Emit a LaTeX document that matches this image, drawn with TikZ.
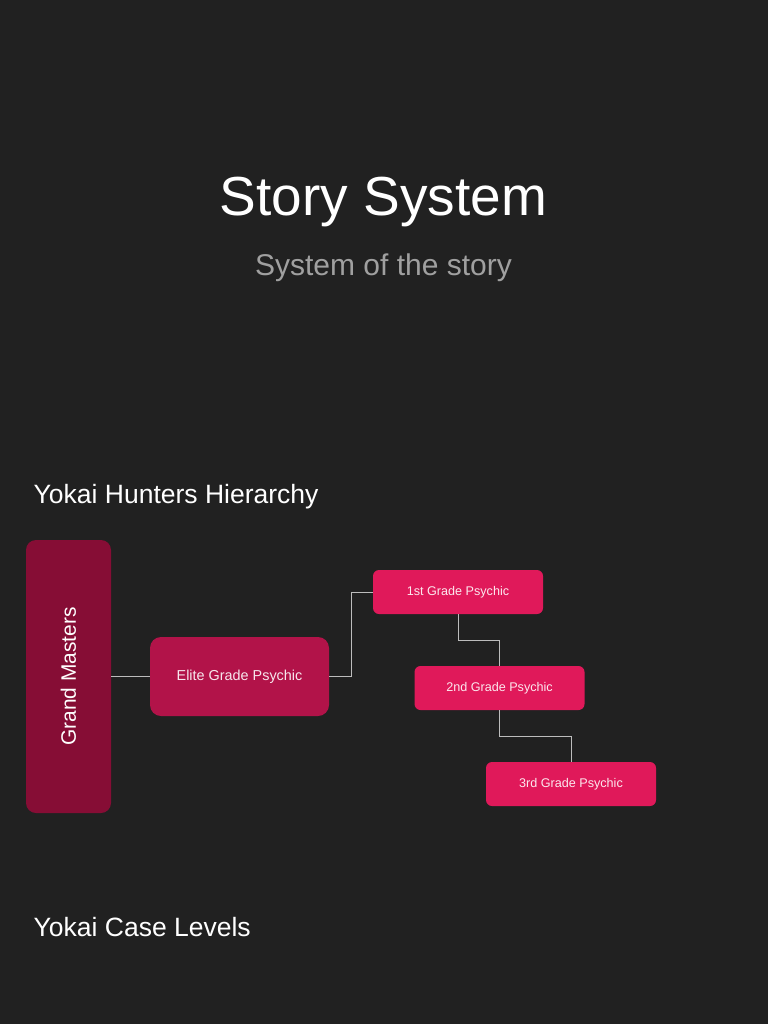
\documentclass[tikz,border=0pt]{standalone}
\usepackage{fontspec}
\setmainfont{Liberation Sans}
\usetikzlibrary{positioning}

\definecolor{bgdark}{HTML}{212121}
\definecolor{gmred}{HTML}{860D35}
\definecolor{elitered}{HTML}{B21349}
\definecolor{gradepink}{HTML}{E0195A}
\definecolor{linkgray}{HTML}{BDBDBD}
\definecolor{subgray}{HTML}{A0A0A0}

\begin{document}
\begin{tikzpicture}[
      x=1pt, y=-1pt,
      every node/.style={text=white},
      title/.style={anchor=base, inner sep=0pt, font=\fontsize{55}{60}\selectfont},
      subtitle/.style={anchor=base, inner sep=0pt, text=subgray, font=\fontsize{30}{34}\selectfont},
      heading/.style={anchor=base west, inner sep=0pt, font=\fontsize{26.5}{30}\selectfont},
      rank/.style={rectangle, inner sep=0pt, align=center},
      master/.style={rank, fill=gmred, rounded corners=10pt, minimum width=273pt, minimum height=85pt, rotate=90, font=\fontsize{20.9}{24}\selectfont},
      elite/.style={rank, fill=elitered, rounded corners=11pt, minimum width=179pt, minimum height=79pt, text=white!90!elitered, font=\fontsize{14.4}{17}\selectfont},
      grade/.style={rank, fill=gradepink, rounded corners=6pt, minimum width=170pt, minimum height=44pt, text=white!90!gradepink, font=\fontsize{12.6}{15}\selectfont},
      link/.style={draw=linkgray, line width=1pt}
  ]
    \fill[bgdark] (0,0) rectangle (768,1024);
    \useasboundingbox (0,0) rectangle (768,1024);

    \node[title] (storytitle) at (383.5,215) {Story System};
    \node[subtitle] (storysub) at (383.5,275) {System of the story};

    \node[heading] (hierhead) at (33.5,503) {Yokai Hunters Hierarchy};
    \node[heading] (casehead) at (33.5,936) {Yokai Case Levels};

    \node[master] (gm) at (68.5,676.5) {Grand Masters};
    \node[elite] (elitepsy) at (239.5,676.5) {Elite Grade Psychic};
    \node[grade] (firstpsy) at (458,592) {1st Grade Psychic};
    \node[grade] (secondpsy) at (499.5,688) {2nd Grade Psychic};
    \node[grade] (thirdpsy) at (571,784) {3rd Grade Psychic};

    \draw[link] (gm.south) -- (elitepsy.west);
    \draw[link] (elitepsy.east) -- ++(22,0) |- (firstpsy.west);
    \draw[link] (firstpsy.south) -- ++(0,26) -| (secondpsy.north);
    \draw[link] (secondpsy.south) -- ++(0,26) -| (thirdpsy.north);
  \end{tikzpicture}
\end{document}
